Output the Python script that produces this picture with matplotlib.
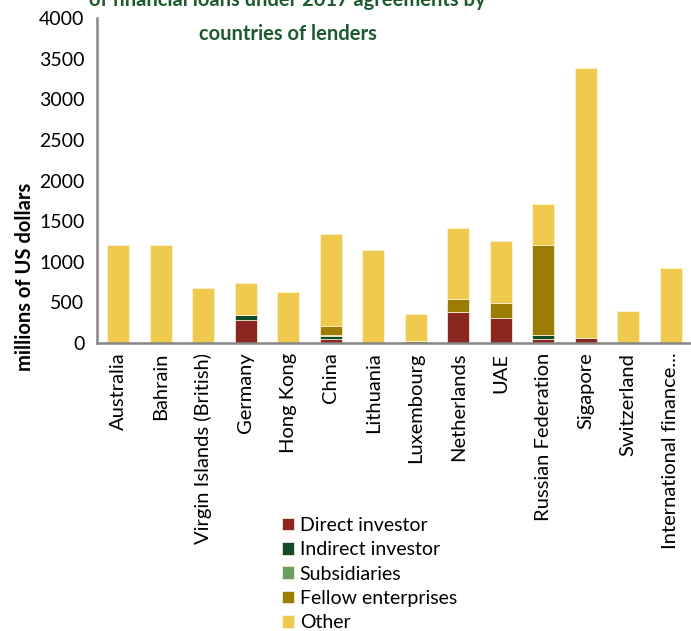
import numpy as np
import matplotlib as mpl
mpl.use('Agg')
import matplotlib.pyplot as plt

#------------------ FONT_setup ----------------------
plt.rcParams['font.family'] = ['Lato', 'DejaVu Sans']

#------------------ Data ----------------------
countries = ['Australia', 'Bahrain', 'Virgin Islands (British)', 'Germany', 'Hong Kong',
             'China', 'Lithuania', 'Luxembourg', 'Netherlands', 'UAE',
             'Russian Federation', 'Sigapore', 'Switzerland', 'International finance...']
direct = [0, 0, 0, 285, 0, 45, 0, 0, 380, 305, 50, 65, 0, 0]
indirect = [0, 0, 0, 65, 0, 45, 0, 0, 0, 0, 45, 0, 0, 0]
subsidiaries = [0, 0, 0, 0, 0, 10, 0, 5, 0, 0, 5, 0, 0, 0]
fellow = [0, 0, 0, 0, 0, 110, 0, 15, 165, 190, 1110, 0, 0, 0]
other = [1205, 1205, 680, 390, 625, 1130, 1150, 340, 875, 760, 500, 3325, 390, 920]

series = [('Direct investor', direct, '#8B2621'),
          ('Indirect investor', indirect, '#0F4C27'),
          ('Subsidiaries', subsidiaries, '#66A05E'),
          ('Fellow enterprises', fellow, '#9D7C06'),
          ('Other', other, '#F0C94F')]

#------------------ Figure Setup ----------------------
fig = plt.figure(figsize=(6.91, 6.31), dpi=100)
ax = fig.add_axes([0.1404, 0.4564, 0.861, 0.515])

x = np.arange(len(countries))
bottom = np.zeros(len(countries))
for name, vals, col in series:
    vals = np.array(vals, dtype=float)
    ax.bar(x, vals, width=0.52, bottom=bottom, color=col, label=name,
           edgecolor='#fff6dd', linewidth=0.5)
    bottom += vals

ax.set_xlim(-0.5, len(countries) - 0.5)
ax.set_ylim(0, 4000)
ax.set_yticks(np.arange(0, 4001, 500))
ax.tick_params(axis='y', length=0, labelsize=14, pad=9, colors='black')
ax.set_xticks(x)
ax.set_xticklabels(countries, rotation=90, fontsize=14.5)
ax.tick_params(axis='x', length=0, pad=7)

for side in ['top', 'right']:
    ax.spines[side].set_visible(False)
for side in ['left', 'bottom']:
    ax.spines[side].set_color('#878787')
    ax.spines[side].set_linewidth(1.8)

#Title (top lines run off the canvas)
fig.text(0.416, 0.93, 'of financial loans under 2017 agreements by\ncountries of lenders',
         ha='center', va='bottom', fontsize=14.5, fontweight='bold', color='#1D5B2F',
         linespacing=1.9)
fig.text(0.036, 0.561, 'millions of US dollars', rotation=90, ha='center', va='center',
         fontsize=14.5, fontweight='bold')

#Legend
handles, labels = ax.get_legend_handles_labels()
fig.legend(handles, labels, loc='upper left', bbox_to_anchor=(0.408, 0.181),
           frameon=False, fontsize=14, handlelength=0.62, handleheight=0.62,
           handletextpad=0.3, labelspacing=0.38, borderpad=0, borderaxespad=0)

plt.savefig('out.png', dpi=100)
